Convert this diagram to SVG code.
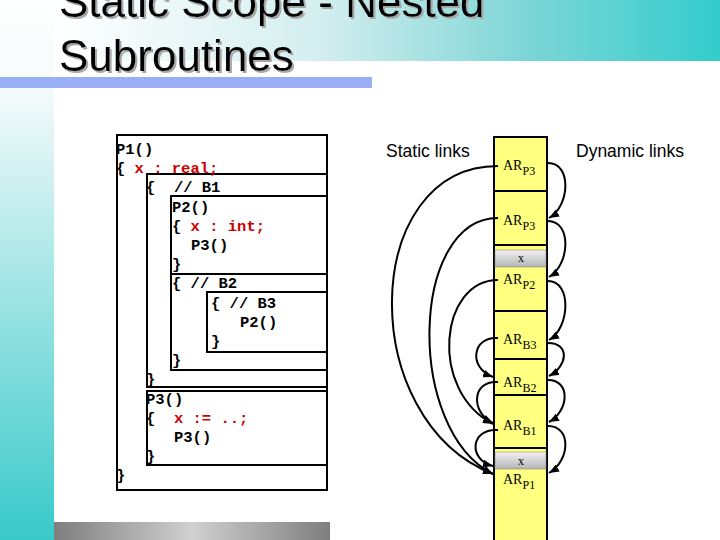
<svg xmlns="http://www.w3.org/2000/svg" width="720" height="540" viewBox="0 0 720 540">
<defs>
<linearGradient id="topband" x1="0" y1="0" x2="1" y2="0">
<stop offset="0" stop-color="#ffffff"/>
<stop offset="0.4" stop-color="#d4eeef"/>
<stop offset="0.7" stop-color="#80d6d6"/>
<stop offset="1" stop-color="#33cccc"/>
</linearGradient>
<linearGradient id="leftstrip" x1="0" y1="0" x2="0" y2="1">
<stop offset="0" stop-color="#ffffff"/>
<stop offset="0.17" stop-color="#f4fafa"/>
<stop offset="1" stop-color="#38c9c9"/>
</linearGradient>
<linearGradient id="botbar" x1="0" y1="0" x2="1" y2="0">
<stop offset="0" stop-color="#7e7e7e"/>
<stop offset="0.5" stop-color="#d0d0d0"/>
<stop offset="1" stop-color="#7e7e7e"/>
</linearGradient>
<linearGradient id="grayx" x1="0" y1="0" x2="0" y2="1">
<stop offset="0" stop-color="#f2f2f2"/>
<stop offset="1" stop-color="#b4b4b4"/>
</linearGradient>
<filter id="tshadow" x="-5%" y="-20%" width="110%" height="140%">
<feOffset in="SourceAlpha" dx="2" dy="2" result="off"/>
<feFlood flood-color="#a8a8a8"/>
<feComposite in2="off" operator="in" result="sh"/>
<feMerge><feMergeNode in="sh"/><feMergeNode in="SourceGraphic"/></feMerge>
</filter>
<marker id="ah" markerUnits="userSpaceOnUse" markerWidth="10" markerHeight="8" refX="10" refY="4" orient="auto">
<path d="M0,0 L10,4 L0,8 z" fill="#000"/>
</marker>
<style>
.title{font-family:"Liberation Sans",Arial,sans-serif;font-size:44px;fill:#000}
.code{font-family:"Liberation Mono","Courier New",monospace;font-size:15.5px;font-weight:bold;fill:#000;white-space:pre}
.red{fill:#cc0000}
.box{fill:none;stroke:#000;stroke-width:2}
.lbl{font-family:"Liberation Sans",Arial,sans-serif;font-size:17.5px;fill:#000}
.ar{font-family:"Liberation Serif","Times New Roman",serif;font-size:14px;fill:#000}
.sub{font-size:12px}
.xl{font-family:"Liberation Serif","Times New Roman",serif;font-size:12px;fill:#000;text-anchor:middle}
.frame{fill:#ffff80;stroke:#000;stroke-width:2}
.div{stroke:#000;stroke-width:2}
.link{fill:none;stroke:#000;stroke-width:2;marker-end:url(#ah)}
</style>
</defs>

<g id="background">
<rect x="0" y="0" width="720" height="540" fill="#ffffff"/>
<rect x="54" y="0" width="666" height="61" fill="url(#topband)"/>
<rect x="0" y="0" width="54" height="540" fill="url(#leftstrip)"/>
<rect x="0" y="77" width="372" height="11" fill="#9aaef5"/>
<rect x="54" y="522" width="276" height="18" fill="url(#botbar)"/>
</g>

<g id="title" filter="url(#tshadow)">
<text class="title" x="59" y="17" xml:space="preserve">Static Scope - Nested</text>
<text class="title" x="59" y="71">Subroutines</text>
</g>

<g id="code">
<rect class="box" x="117" y="135" width="210" height="355"/>
<rect class="box" x="147" y="174" width="180" height="213"/>
<rect class="box" x="171" y="196" width="156" height="78"/>
<rect class="box" x="171" y="274" width="156" height="96"/>
<rect class="box" x="207" y="292" width="120" height="60"/>
<rect class="box" x="147" y="391" width="180" height="74"/>
<text class="code" x="116" y="154">P1()</text>
<text class="code" x="116" y="173.2" xml:space="preserve">{ <tspan class="red">x : real;</tspan></text>
<text class="code" x="146" y="192.4" xml:space="preserve">{  // B1</text>
<text class="code" x="172" y="211.6">P2()</text>
<text class="code" x="172" y="230.8" xml:space="preserve">{ <tspan class="red">x : int;</tspan></text>
<text class="code" x="191" y="250">P3()</text>
<text class="code" x="172" y="269.2">}</text>
<text class="code" x="172" y="288.4" xml:space="preserve">{ // B2</text>
<text class="code" x="211" y="307.6" xml:space="preserve">{ // B3</text>
<text class="code" x="240" y="326.8">P2()</text>
<text class="code" x="211" y="346">}</text>
<text class="code" x="172" y="365.2">}</text>
<text class="code" x="146" y="384.4">}</text>
<text class="code" x="146" y="403.6">P3()</text>
<text class="code" x="146" y="422.8" xml:space="preserve">{  <tspan class="red">x := ..;</tspan></text>
<text class="code" x="174" y="442">P3()</text>
<text class="code" x="146" y="461.2">}</text>
<text class="code" x="116" y="480.4">}</text>
</g>

<g id="labels">
<text class="lbl" x="386" y="157">Static links</text>
<text class="lbl" x="576" y="157">Dynamic links</text>
</g>

<g id="stack">
<rect class="frame" x="494" y="137" width="53" height="410"/>
<line class="div" x1="494" y1="191" x2="547" y2="191"/>
<line class="div" x1="494" y1="245" x2="547" y2="245"/>
<rect x="495" y="250" width="51" height="17" fill="url(#grayx)" stroke="#8a8a8a" stroke-width="0.6"/>
<line class="div" x1="494" y1="311" x2="547" y2="311"/>
<line class="div" x1="494" y1="359" x2="547" y2="359"/>
<line class="div" x1="494" y1="395" x2="547" y2="395"/>
<line class="div" x1="494" y1="448" x2="547" y2="448"/>
<rect x="495" y="452" width="51" height="17" fill="url(#grayx)" stroke="#8a8a8a" stroke-width="0.6"/>
</g>

<g id="ar_p3_a"><text class="ar" x="503" y="170">AR<tspan class="sub" dy="5">P3</tspan></text></g>
<g id="ar_p3_b"><text class="ar" x="503" y="225">AR<tspan class="sub" dy="5">P3</tspan></text></g>
<g id="x_p2"><text class="xl" x="521" y="262">x</text></g>
<g id="ar_p2"><text class="ar" x="503" y="284">AR<tspan class="sub" dy="5">P2</tspan></text></g>
<g id="ar_b3"><text class="ar" x="503" y="344">AR<tspan class="sub" dy="5">B3</tspan></text></g>
<g id="ar_b2"><text class="ar" x="503" y="387">AR<tspan class="sub" dy="5">B2</tspan></text></g>
<g id="ar_b1"><text class="ar" x="503" y="430">AR<tspan class="sub" dy="5">B1</tspan></text></g>
<g id="x_p1"><text class="xl" x="521" y="465">x</text></g>
<g id="ar_p1"><text class="ar" x="503" y="484">AR<tspan class="sub" dy="5">P1</tspan></text></g>

<g id="connectors">
<path class="link" d="M498,166 C360,166 355,420 493,474"/>
<path class="link" d="M498,218 C410,218 405,430 493,474"/>
<path class="link" d="M498,280 C440,280 428,390 493,424"/>
<path class="link" d="M498,338 C472,336 468,368 493,377"/>
<path class="link" d="M498,382 C472,380 470,412 493,423"/>
<path class="link" d="M498,430 C470,428 468,460 493,466"/>
<path class="link" d="M548,163 C572,163 570,206 549,218"/>
<path class="link" d="M548,221 C572,221 570,265 549,277"/>
<path class="link" d="M548,281 C572,281 570,328 549,340"/>
<path class="link" d="M548,343 C570,343 568,366 549,376"/>
<path class="link" d="M548,380 C571,380 569,411 549,422"/>
<path class="link" d="M548,426 C572,426 570,461 549,473"/>
</g>
</svg>
